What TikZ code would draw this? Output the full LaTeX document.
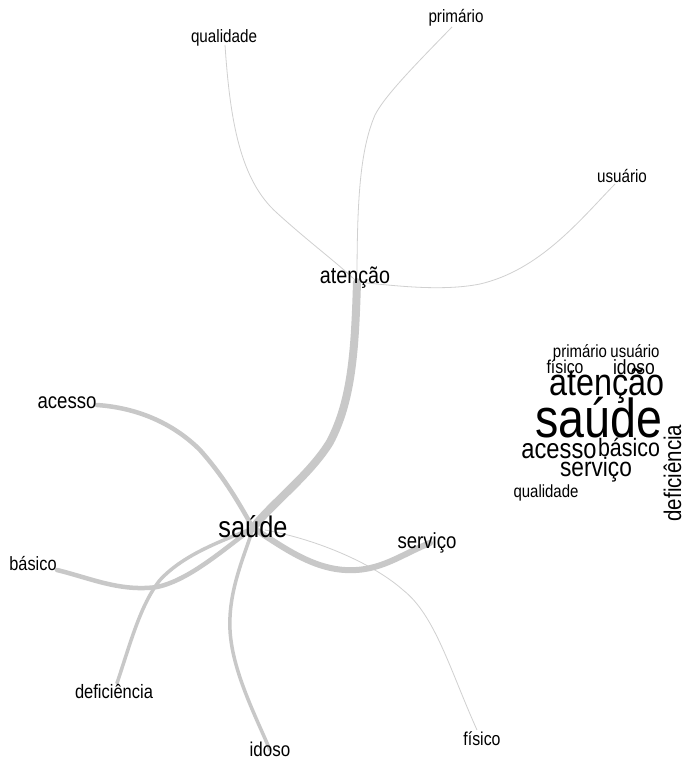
\documentclass[tikz,border=0pt]{standalone}
\usepackage{fontspec}
\newfontfamily\lab[FakeStretch=0.85]{Liberation Sans}
\newcommand\fsz[1]{\fontsize{#1}{#1}\selectfont}
\definecolor{edgec}{RGB}{200,200,200}
\definecolor{thinc}{RGB}{208,208,208}
\begin{document}
\begin{tikzpicture}[x=1pt,y=-1pt,
  lbl/.style={inner sep=0pt, anchor=base, text=black},
  thinedge/.style={draw=thinc, line width=0.8pt},
  wedge/.style={draw=edgec, line width=#1, line cap=round},
  wedge/.default=4pt]
\useasboundingbox[fill=white] (0,0) rectangle (683,759);

% edge end points
\coordinate (h-saude) at (253,528);
\coordinate (h-atencao) at (357,282);
\coordinate (e-qualidade) at (225,45);
\coordinate (e-primario) at (452,27);
\coordinate (e-usuario) at (615,184);
\coordinate (e-acesso) at (97,405);
\coordinate (e-basico) at (57,570);
\coordinate (e-deficiencia) at (117,683);
\coordinate (e-idoso) at (270,750);
\coordinate (e-servico) at (430,543);
\coordinate (e-fisico) at (477,730);
\coordinate (e-saudefis) at (265,530);

% thin edges
\draw[thinedge] (e-qualidade) .. controls (230,120) and (240,180) .. (277,213)
   .. controls (310,243) and (340,265) .. (h-atencao);
\draw[thinedge] (e-primario) .. controls (420,60) and (385,95) .. (375,115)
   .. controls (360,150) and (357,200) .. (h-atencao);
\draw[thinedge] (e-usuario) .. controls (580,220) and (540,270) .. (480,284)
   .. controls (440,292) and (390,285) .. (h-atencao);
\draw[thinedge] (e-fisico) .. controls (450,670) and (435,615) .. (403,590)
   .. controls (375,565) and (320,540) .. (e-saudefis);

% thick edges
\draw[wedge=8pt] (h-atencao) .. controls (355,350) and (352,400) .. (330,442)
   .. controls (310,475) and (270,505) .. (h-saude);
\draw[wedge=4.5pt] (e-acesso) .. controls (140,408) and (175,425) .. (200,450)
   .. controls (225,478) and (240,505) .. (h-saude);
\draw[wedge=4.5pt] (e-basico) .. controls (90,578) and (120,592) .. (157,587)
   .. controls (190,580) and (225,548) .. (h-saude);
\draw[wedge=3.5pt] (e-deficiencia) .. controls (130,645) and (140,605) .. (160,580)
   .. controls (185,553) and (225,540) .. (h-saude);
\draw[wedge=3.5pt] (e-idoso) .. controls (255,715) and (232,670) .. (230,630)
   .. controls (228,590) and (245,555) .. (h-saude);
\draw[wedge=6pt] (e-servico) .. controls (400,555) and (380,572) .. (345,570)
   .. controls (310,568) and (280,545) .. (h-saude);

% graph labels
\node[lbl, font={\lab\fsz{17.9}}] (qualidade) at (224,43) {qualidade};
\node[lbl, font={\lab\fsz{17.9}}] (primario) at (456,23) {primário};
\node[lbl, font={\lab\fsz{17.9}}] (usuario) at (622,183) {usuário};
\node[lbl, font={\lab\fsz{23.2}}] (atencao) at (355,283) {atenção};
\node[lbl, font={\lab\fsz{21.9}}] (acesso) at (67,408) {acesso};
\node[lbl, font={\lab\fsz{29.8}}] (saude) at (253,537) {saúde};
\node[lbl, font={\lab\fsz{21.9}}] (servico) at (427,548) {serviço};
\node[lbl, font={\lab\fsz{19.2}}] (basico) at (33,570) {básico};
\node[lbl, font={\lab\fsz{19.4}}] (deficiencia) at (114,698) {deficiência};
\node[lbl, font={\lab\fsz{20}}] (idoso) at (270,756) {idoso};
\node[lbl, font={\lab\fsz{18.7}}] (fisico) at (482,745) {físico};

% word cloud
\node[lbl, font={\lab\fsz{17.6}}] (c-primario) at (580,357) {primário};
\node[lbl, font={\lab\fsz{17.6}}] (c-usuario) at (635,357) {usuário};
\node[lbl, font={\lab\fsz{18.6}}] (c-fisico) at (565,373) {físico};
\node[lbl, font={\lab\fsz{20.6}}] (c-idoso) at (634,374) {idoso};
\node[lbl, font={\lab\fsz{38}}] (c-atencao) at (607,395) {atenção};
\node[lbl, font={\lab\fsz{54.8}}] (c-saude) at (599,437) {saúde};
\node[lbl, font={\lab\fsz{27.9}}] (c-acesso) at (559,458) {acesso};
\node[lbl, font={\lab\fsz{25.2}}] (c-basico) at (629,456) {básico};
\node[lbl, font={\lab\fsz{26.7}}] (c-servico) at (596,476) {serviço};
\node[lbl, font={\lab\fsz{17.6}}] (c-qualidade) at (546,497) {qualidade};
\node[lbl, font={\lab\fsz{24.1}}, rotate=90] (c-deficiencia) at (681,473) {deficiência};
\end{tikzpicture}
\end{document}
